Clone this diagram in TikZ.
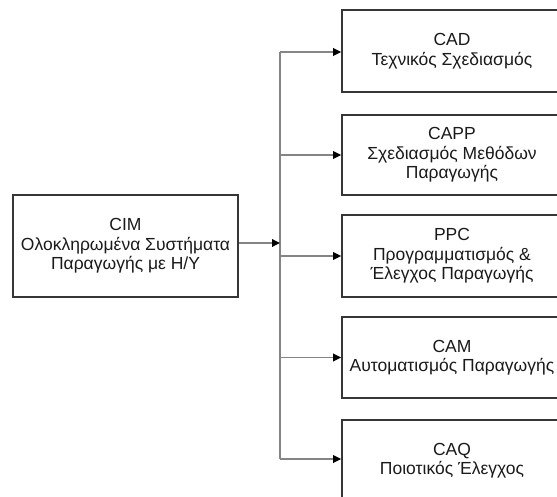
\documentclass[tikz,border=0pt]{standalone}
\usepackage{fontspec}
\setmainfont{Liberation Sans}
\usetikzlibrary{arrows.meta}
\definecolor{boxline}{HTML}{363636}
\definecolor{wire}{HTML}{858585}
\definecolor{ink}{HTML}{1A1A1A}
\begin{document}
\begin{tikzpicture}[x=1pt,y=-1pt,
  block/.style={draw=boxline, line width=1.6pt, fill=white, rectangle,
    inner sep=0pt, align=center, text=ink,
    font=\fontsize{17.5}{19.5}\selectfont},
  conn/.style={draw=wire, line width=1.8pt,
    -{Triangle[length=8pt,width=7.5pt,fill=black,color=black]}},
  spine/.style={draw=wire, line width=2pt}]
  \useasboundingbox (0,0) rectangle (557,497);
  \begin{scope}
  \clip (0,0) rectangle (557,497);

  % source system
  \node[block, minimum width=225pt, minimum height=102pt] (cim) at (125.5,246)
    {CIM\\Ολοκληρωμένα Συστήματα\\Παραγωγής με Η/Υ};

  % subsystems
  \node[block, minimum width=220pt, minimum height=82pt] (cad) at (452,51)
    {CAD\\Τεχνικός Σχεδιασμός};
  \node[block, minimum width=220pt, minimum height=80pt] (capp) at (452,155)
    {CAPP\\Σχεδιασμός Μεθόδων\\Παραγωγής};
  \node[block, minimum width=220pt, minimum height=82pt] (ppc) at (452,256)
    {PPC\\Προγραμματισμός \&\\Έλεγχος Παραγωγής};
  \node[block, minimum width=220pt, minimum height=81pt] (cam) at (452,357.5)
    {CAM\\Αυτοματισμός Παραγωγής};
  \node[block, minimum width=220pt, minimum height=81pt] (caq) at (452,460.5)
    {CAQ\\Ποιοτικός Έλεγχος};

  % distribution bus
  \coordinate (hub) at (280,243);
  \coordinate (bustop) at (280,52);
  \coordinate (busbot) at (280,459);
  \draw[spine] (bustop) -- (busbot);

  \draw[conn] ([yshift=3pt]cim.east) -- (hub);
  \draw[conn] (bustop) -- (cad.west |- bustop);
  \draw[conn] (bustop |- capp.west) -- (capp.west);
  \draw[conn] (bustop |- ppc.west) -- (ppc.west);
  \draw[conn] (bustop |- cam.west) -- (cam.west);
  \draw[conn] (busbot) -- (caq.west |- busbot);
  \end{scope}
\end{tikzpicture}
\end{document}
